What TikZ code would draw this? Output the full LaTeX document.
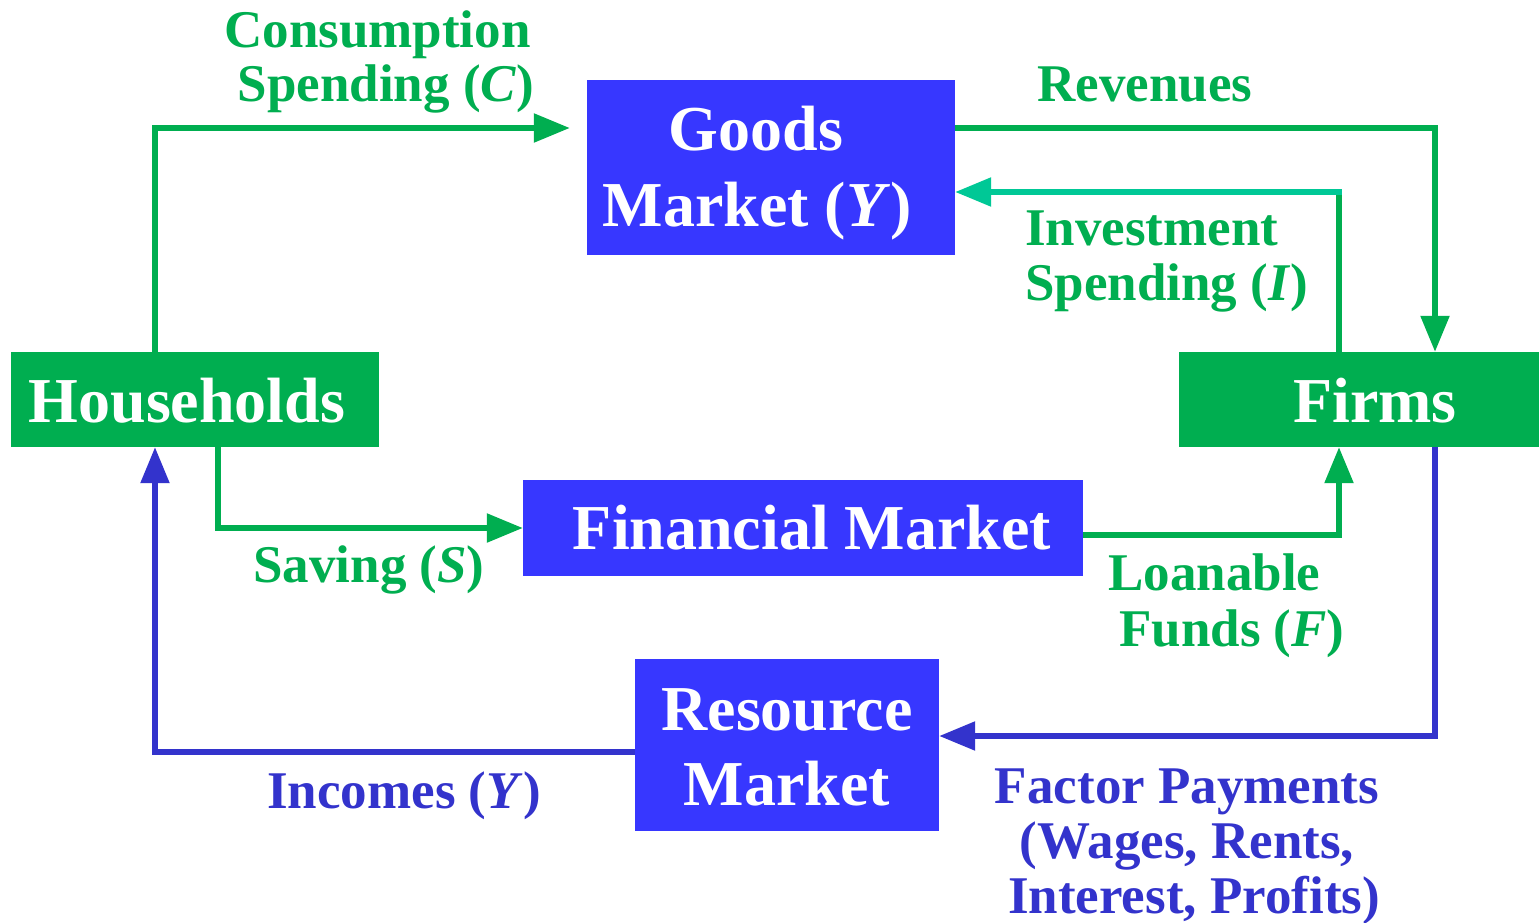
\documentclass[tikz,border=0pt]{standalone}
\usepackage{fontspec}
\setmainfont{Liberation Serif}
\usetikzlibrary{arrows.meta}
\definecolor{hgreen}{HTML}{00AE50}
\definecolor{bbox}{HTML}{3737FF}
\definecolor{bline}{HTML}{3333CC}
\definecolor{teal2}{HTML}{00C896}
\tikzset{
  box/.style={rectangle, inner sep=0pt, draw=none},
  gbox/.style={box, fill=hgreen},
  bluebox/.style={box, fill=bbox},
  boxtext/.style={anchor=base, inner sep=0pt, text=white, font=\fontsize{64}{76}\selectfont\bfseries},
  lbl/.style={anchor=base, inner sep=0pt, font=\fontsize{53}{55}\selectfont\bfseries},
  glbl/.style={lbl, text=hgreen},
  blbl/.style={lbl, text=bline},
  flow/.style={line width=5.5pt, -{Triangle[length=36pt,width=28pt]}},
  gflow/.style={flow, draw=hgreen},
  bflow/.style={flow, draw=bline},
}
\begin{document}
\begin{tikzpicture}[x=1pt,y=-1pt]
\useasboundingbox[fill=white] (0,0) rectangle (1539,923);
% boxes
\node[bluebox, minimum width=368pt, minimum height=175pt] (gm) at (771,167.5) {};
\node[gbox, minimum width=368pt, minimum height=95pt] (hh) at (195,399.5) {};
\node[gbox, minimum width=360pt, minimum height=95pt] (fi) at (1359,399.5) {};
\node[bluebox, minimum width=560pt, minimum height=96pt] (fm) at (803,528) {};
\node[bluebox, minimum width=304pt, minimum height=172pt] (rm) at (787,745) {};
% box texts
\node[boxtext] (gm1) at (756,150) {Goods};
\node[boxtext] (gm2) at (757,226) {Market (\textit{Y})};
\node[boxtext] (hht) at (187,422) {Households};
\node[boxtext] (fit) at (1375,422) {Firms};
\node[boxtext] (fmt) at (812,549) {Financial Market};
\node[boxtext] (rm1) at (787,730) {Resource};
\node[boxtext] (rm2) at (787,805) {Market};
% connectors
\draw[gflow, shorten >=17pt] ([xshift=-40pt]hh.north) |- (gm.west |- 0,128);
\draw[gflow] (gm.east |- 0,128) -| (fi.north -| 1435,0);
\draw[draw=hgreen, line width=5.5pt] (fi.north -| 1339,0) -- (1339,192) coordinate (invc);
\draw[flow, draw=teal2] ([xshift=2.75pt]invc) -- (gm.east |- 0,192);
\draw[gflow] ([xshift=23pt]hh.south) |- (fm.west |- 0,528);
\draw[gflow] (fm.east |- 0,535) -| (fi.south -| 1339,0);
\draw[bflow] (fi.south -| 1435,0) |- (rm.east |- 0,736);
\draw[bflow] (rm.west |- 0,752) -| (hh.south -| 155,0);
% labels
\node[glbl] (c1) at (377.5,48) {Consumption};
\node[glbl] (c2) at (386,102) {Spending (\textit{C})};
\node[glbl] (rv) at (1145,102) {Revenues};
\node[glbl, anchor=base west] (i1) at (1025,245) {Investment};
\node[glbl, anchor=base west] (i2) at (1025,300) {Spending (\textit{I})};
\node[glbl] (sv) at (369,582) {Saving (\textit{S})};
\node[glbl, anchor=base west] (lf1) at (1108,590) {Loanable};
\node[glbl, anchor=base west] (lf2) at (1119,646) {Funds (\textit{F})};
\node[blbl] (inc) at (404,808) {Incomes (\textit{Y})};
\node[blbl] (fp1) at (1187,803) {Factor Payments};
\node[blbl] (fp2) at (1187,858) {(Wages, Rents,};
\node[blbl] (fp3) at (1194,913) {Interest, Profits)};
\end{tikzpicture}
\end{document}
